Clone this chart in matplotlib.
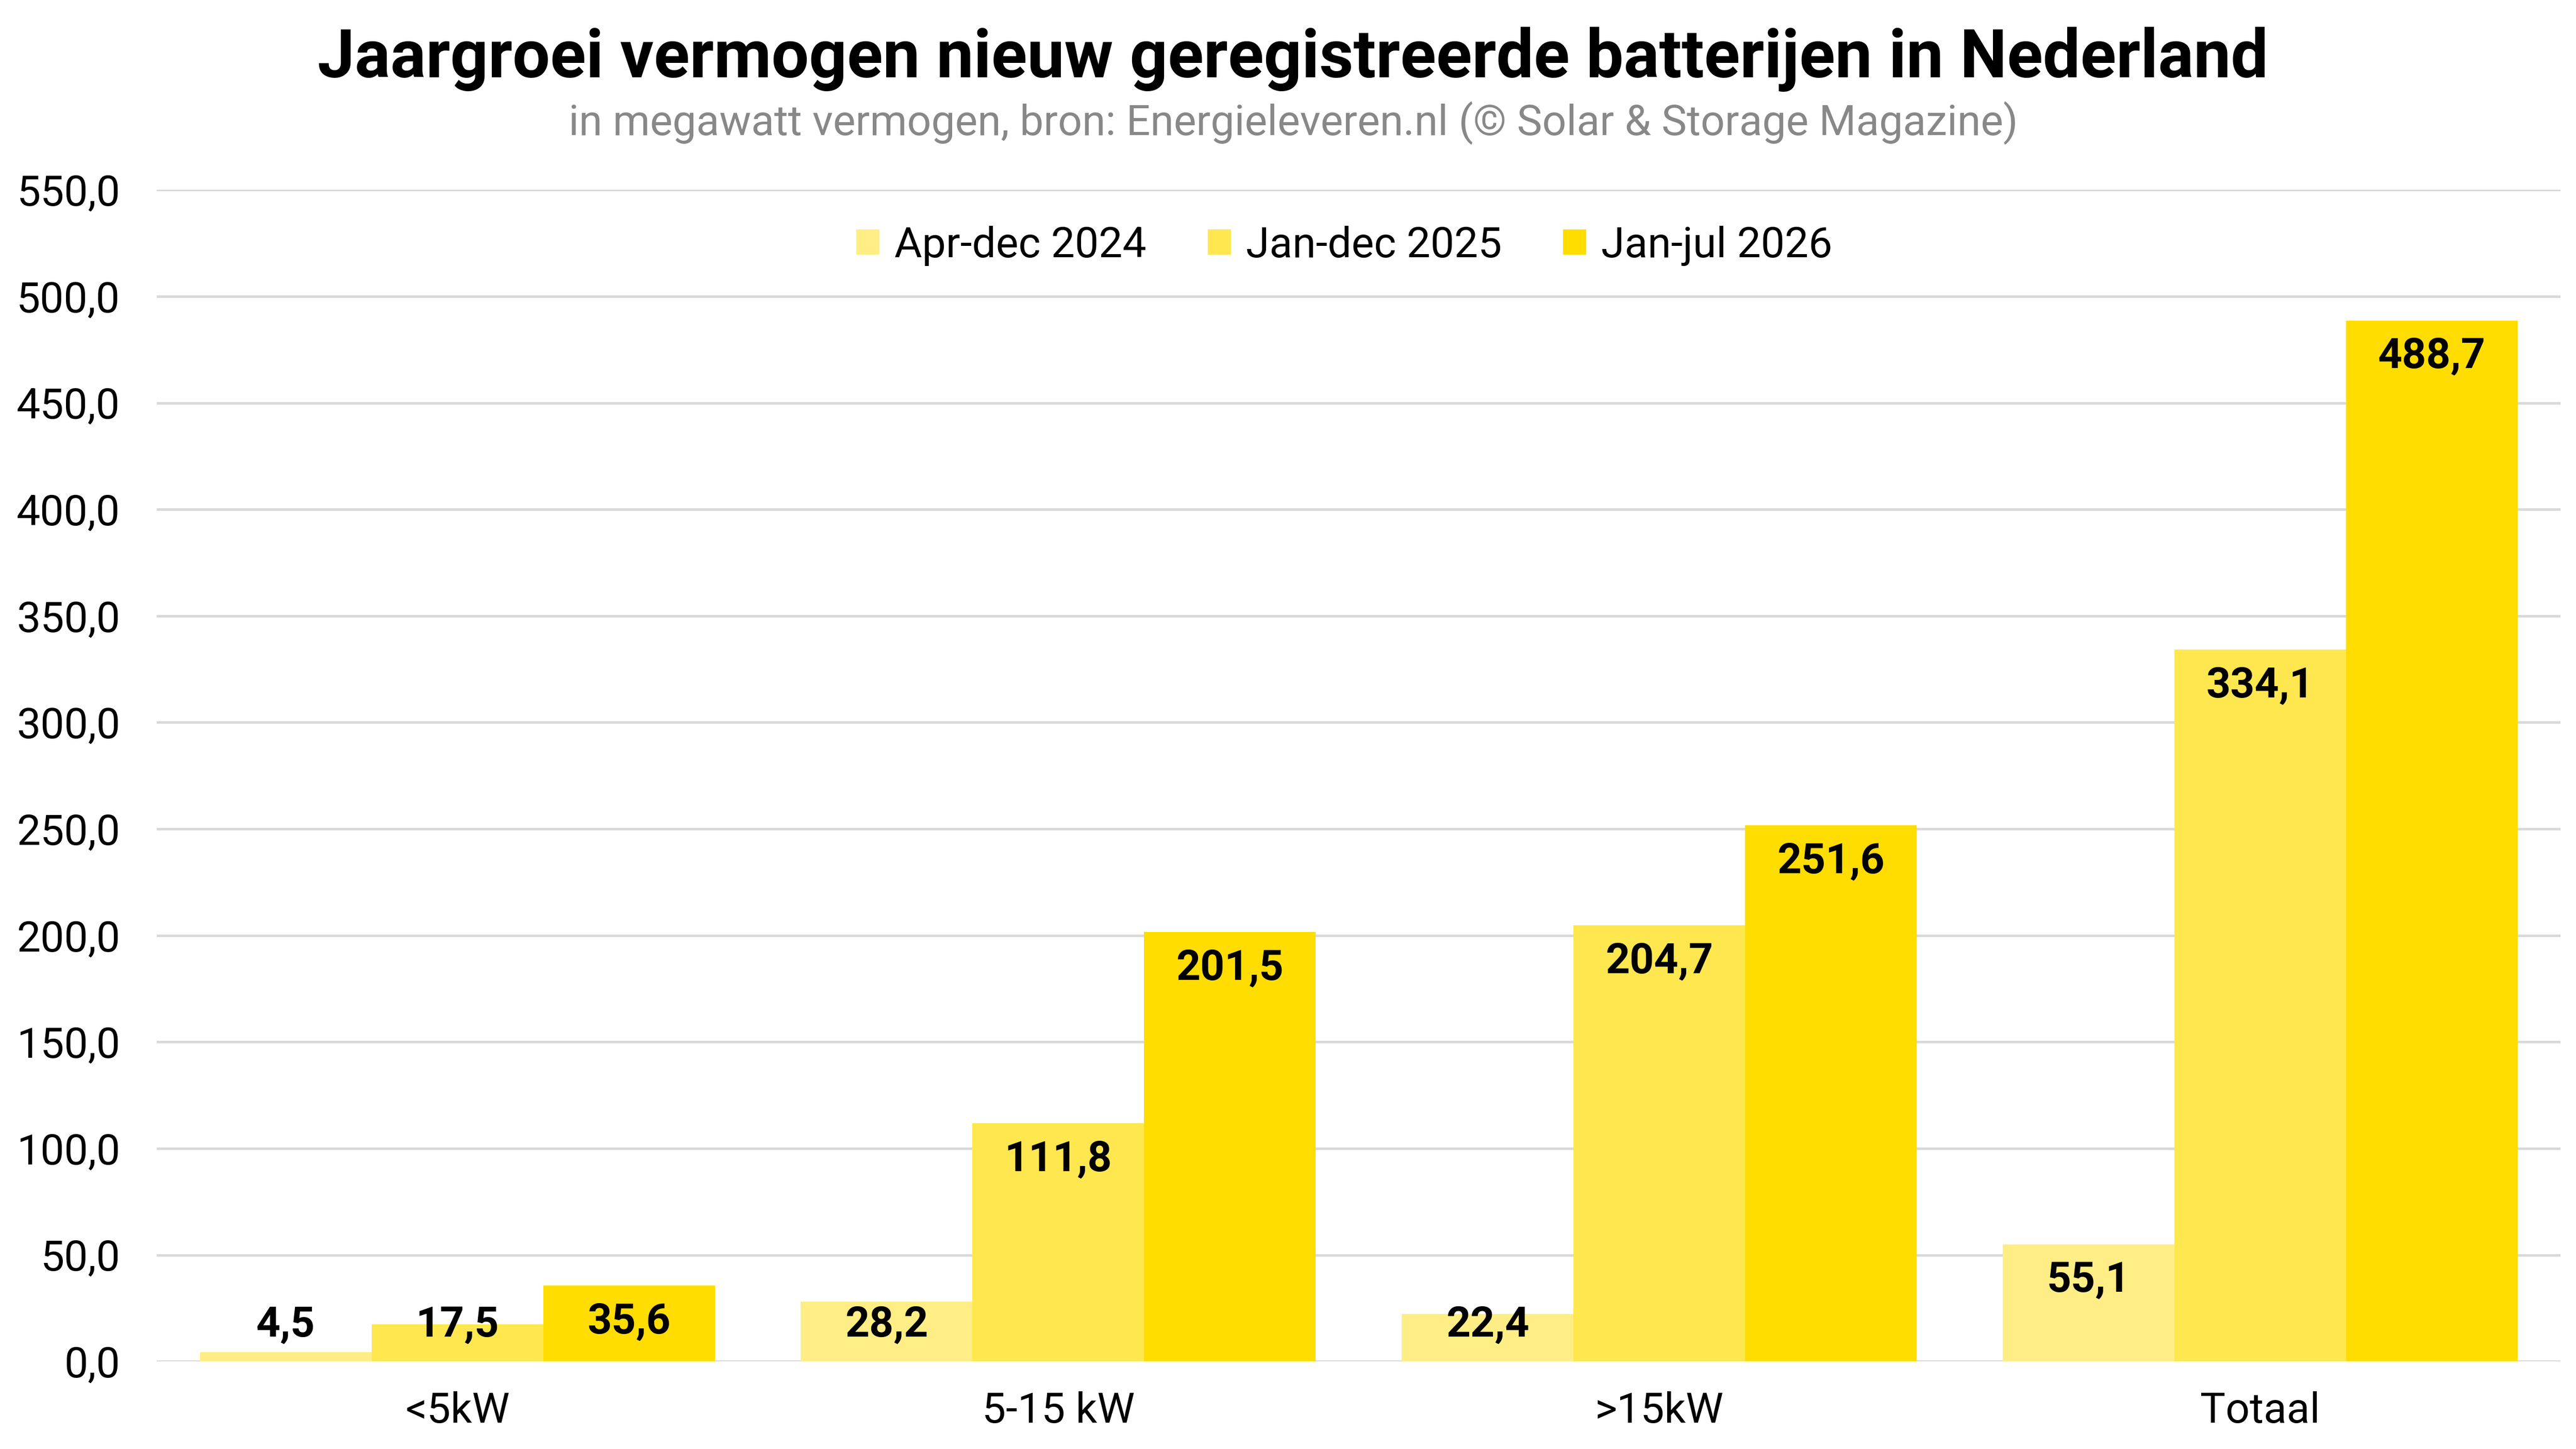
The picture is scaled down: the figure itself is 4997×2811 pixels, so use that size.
import matplotlib
matplotlib.use("Agg")
import matplotlib.pyplot as plt
import numpy as np

categories = ['<5kW', '5-15 kW', '>15kW', 'Totaal']
series_names = ['Apr-dec 2024', 'Jan-dec 2025', 'Jan-jul 2026']
apr_dec_2024 = [4.5, 28.2, 22.4, 55.1]
jan_dec_2025 = [17.5, 111.8, 204.7, 334.1]
jan_jul_2026 = [35.6, 201.5, 251.6, 488.7]
colors = ['#FFEE85', '#FFE74F', '#FFDD00']
y_ticks = np.arange(0, 551, 50)

plt.rcParams['font.family'] = ['Roboto', 'DejaVu Sans']

fig = plt.figure(figsize=(4997 / 320, 2811 / 320), dpi=320)
ax = fig.add_axes([0.0609, 0.0604, 0.9331, 0.8086])

x = np.arange(len(categories))
w = 0.2857
for i, (vals, name) in enumerate(zip([apr_dec_2024, jan_dec_2025, jan_jul_2026], series_names)):
  pos = x + (i - 1) * w
  ax.bar(pos, vals, width= w, color= colors[i], label= name, zorder= 2)
  for px, v in zip(pos, vals):
    ax.text(px, max(v - 17, 17), f'{v:.1f}'.replace('.', ','), ha= 'center', va= 'center',
            fontsize= 18.5, fontweight= 'bold', color= 'black', zorder= 3)

ax.set_xlim(-0.5, len(categories) - 0.5)
ax.set_ylim(0, 550)
ax.set_yticks(y_ticks)
ax.set_yticklabels([f'{t:.1f}'.replace('.', ',') for t in y_ticks], fontsize= 18.5)
ax.set_xticks(x)
ax.set_xticklabels(categories, fontsize= 18.5)
ax.tick_params(axis= 'y', length= 0, pad= 16)
ax.tick_params(axis= 'x', length= 0, pad= 13)
ax.grid(axis= 'y', color= '#d9d9d9', linewidth= 1.1, zorder= 0)
ax.set_axisbelow(True)
for s in ax.spines.values():
  s.set_visible(False)

ax.legend(loc= 'upper center', bbox_to_anchor= (0.494, 1.002), ncol= 3, frameon= False,
          fontsize= 18.5, handlelength= 0.55, handleheight= 0.55, handletextpad= 0.35, columnspacing= 1.45)

fig.text(0.502, 0.959, 'Jaargroei vermogen nieuw geregistreerde batterijen in Nederland',
         ha= 'center', va= 'center', fontsize= 29, fontweight= 'bold')
fig.text(0.502, 0.915, 'in megawatt vermogen, bron: Energieleveren.nl (© Solar & Storage Magazine)',
         ha= 'center', va= 'center', fontsize= 18.5, color= '#888888')

fig.savefig('out.png', dpi= 320, facecolor= 'white')
